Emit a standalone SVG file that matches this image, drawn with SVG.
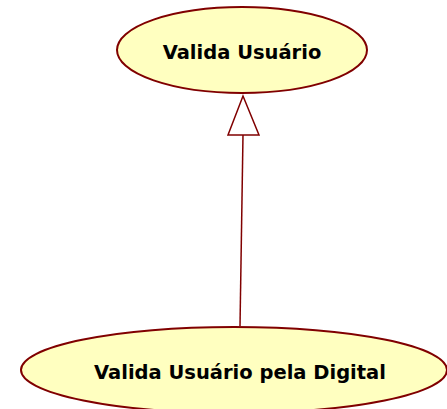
<svg xmlns="http://www.w3.org/2000/svg" width="447" height="409" viewBox="0 0 447 409">
<style>
.node ellipse{fill:#ffffc0;stroke:#800000;stroke-width:2}
.node text{font-family:"DejaVu Sans",sans-serif;font-weight:bold;font-size:19.5px;fill:#000;text-anchor:middle}
.edge{stroke:#800000;stroke-width:1.5;fill:none}
.head{stroke:#800000;stroke-width:1.5;fill:#fff}
</style>
<rect width="447" height="409" fill="#fff"/>
<g id="connectors">
<path class="edge" d="M243,135 L240,326"/>
<polygon class="head" points="243,96 259,135 228,135"/>
</g>
<g id="valida-usuario" class="node">
<ellipse cx="242" cy="50" rx="125" ry="43"/>
<text x="242" y="59">Valida Usuário</text>
</g>
<g id="valida-usuario-digital" class="node">
<ellipse cx="234" cy="370" rx="213" ry="43"/>
<text x="240" y="379">Valida Usuário pela Digital</text>
</g>
</svg>
